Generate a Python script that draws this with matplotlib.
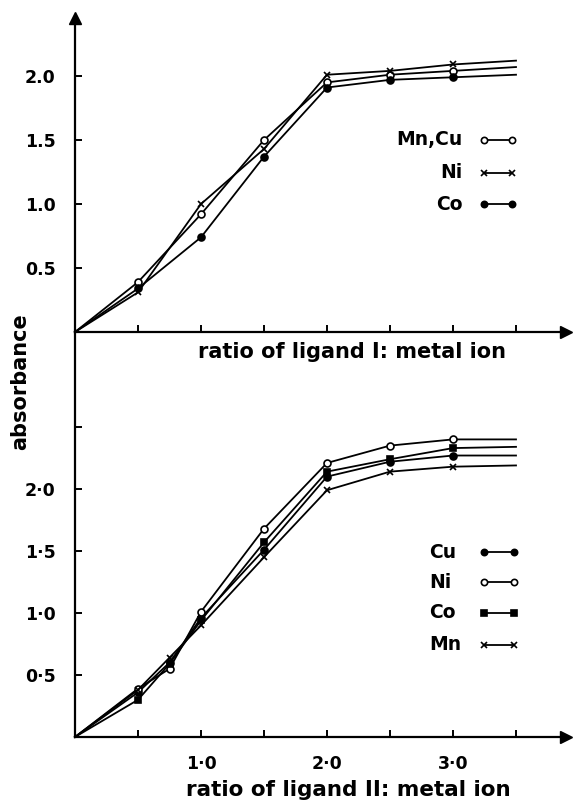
import numpy as np
import matplotlib
matplotlib.use("Agg")
import matplotlib.pyplot as plt

plt.rcParams['font.family'] = ['DejaVu Sans']

# ligand I : metal ion (upper panel)
ratio_1 = [0, 0.5, 1.0, 1.5, 2.0, 2.5, 3.0, 3.5]
mncu_1 = [0, 0.39, 0.92, 1.50, 1.95, 2.01, 2.04, 2.07]
ni_1 = [0, 0.31, 1.00, 1.43, 2.01, 2.04, 2.09, 2.12]
co_1 = [0, 0.34, 0.74, 1.37, 1.91, 1.97, 1.99, 2.01]

# ligand II : metal ion (lower panel)
ratio_2 = [0, 0.5, 0.75, 1.0, 1.5, 2.0, 2.5, 3.0, 3.5]
cu_2 = [0, 0.36, 0.60, 0.96, 1.51, 2.10, 2.22, 2.27, 2.27]
ni_2 = [0, 0.39, 0.55, 1.01, 1.68, 2.21, 2.35, 2.40, 2.40]
co_2 = [0, 0.30, 0.59, 0.94, 1.57, 2.14, 2.24, 2.33, 2.34]
mn_2 = [0, 0.38, 0.64, 0.90, 1.45, 1.99, 2.14, 2.18, 2.19]

W, H = 577, 801
fig = plt.figure(figsize=(W / 100, H / 100), dpi=100)

x0, x1 = 75, 566
ax1 = fig.add_axes([x0 / W, 1 - 332 / H, (x1 - x0) / W, (332 - 18) / H])
ax2 = fig.add_axes([x0 / W, 1 - 737 / H, (x1 - x0) / W, (737 - 332) / H])
for ax in (ax1, ax2):
    ax.patch.set_visible(False)

xmax = (x1 - x0) / 126.0
ax1.set_xlim(0, xmax)
ax1.set_ylim(0, (332 - 18) / 128.0)
ax2.set_xlim(0, xmax)
ax2.set_ylim(0, (737 - 332) / 124.0)

lw = 1.3
ms = 5

def series(ax, x, y, marker, fill):
    ax.plot(x, y, color='black', lw=lw, marker=marker, ms=ms,
            mfc=fill, mec='black', mew=1.2, markevery=list(range(1, len(x) - 1)),
            clip_on=False)

series(ax1, ratio_1, mncu_1, 'o', 'white')
series(ax1, ratio_1, ni_1, 'x', 'black')
series(ax1, ratio_1, co_1, 'o', 'black')

series(ax2, ratio_2, cu_2, 'o', 'black')
series(ax2, ratio_2, ni_2, 'o', 'white')
series(ax2, ratio_2, co_2, 's', 'black')
series(ax2, ratio_2, mn_2, 'x', 'black')

for ax in (ax1, ax2):
    for s in ('top', 'right'):
        ax.spines[s].set_visible(False)
    for s in ('left', 'bottom'):
        ax.spines[s].set_linewidth(1.6)
    ax.set_xticks([0.5, 1.0, 1.5, 2.0, 2.5, 3.0, 3.5])
    ax.tick_params(direction='in', length=5, width=1.4, labelsize=12.5)
    ax.tick_params(axis='y', pad=14)
    ax.tick_params(axis='x', pad=13)
    ax.plot(1, 0, '>', color='black', ms=9, transform=ax.transAxes, clip_on=False)

ax1.plot(0, 1, '^', color='black', ms=9, transform=ax1.transAxes, clip_on=False)

ax1.set_yticks([0.5, 1.0, 1.5, 2.0])
ax1.set_yticklabels(['0.5', '1.0', '1.5', '2.0'], fontweight='bold')
ax1.set_xticklabels([])

ax2.set_yticks([0.5, 1.0, 1.5, 2.0, 2.5])
ax2.set_yticklabels(['0·5', '1·0', '1·5', '2·0', ''], fontweight='bold')
ax2.set_xticklabels(['', '1·0', '', '2·0', '', '3·0', ''], fontweight='bold')

txt = dict(fontweight='bold', ha='center', va='center')
fig.text(352 / W, 1 - 352 / H, 'ratio of ligand I: metal ion', fontsize=15, **txt)
fig.text(348 / W, 1 - 790 / H, 'ratio of ligand II: metal ion', fontsize=15.5, **txt)
fig.text(20 / W, 1 - 382 / H, 'absorbance', rotation=90, fontsize=15, **txt)

# legend keys, upper panel
leg1 = [('Mn,Cu', 'o', 'white', 140), ('Ni', 'x', 'black', 173), ('Co', 'o', 'black', 204)]
for name, m, fc, yy in leg1:
    fig.text(463 / W, 1 - yy / H, name, fontsize=13.5, fontweight='bold',
             ha='right', va='center')
    fig.add_artist(plt.Line2D([484 / W, 512 / W], [1 - yy / H, 1 - yy / H],
                              color='black', lw=lw, marker=m, ms=4.5,
                              mfc=fc, mec='black', mew=1.2))

# legend keys, lower panel
leg2 = [('Cu', 'o', 'black', 552), ('Ni', 'o', 'white', 582),
        ('Co', 's', 'black', 613), ('Mn', 'x', 'black', 645)]
for name, m, fc, yy in leg2:
    fig.text(429 / W, 1 - yy / H, name, fontsize=13.5, fontweight='bold',
             ha='left', va='center')
    fig.add_artist(plt.Line2D([484 / W, 514 / W], [1 - yy / H, 1 - yy / H],
                              color='black', lw=lw, marker=m, ms=4.5,
                              mfc=fc, mec='black', mew=1.2))

fig.savefig('out.png', dpi=100)
